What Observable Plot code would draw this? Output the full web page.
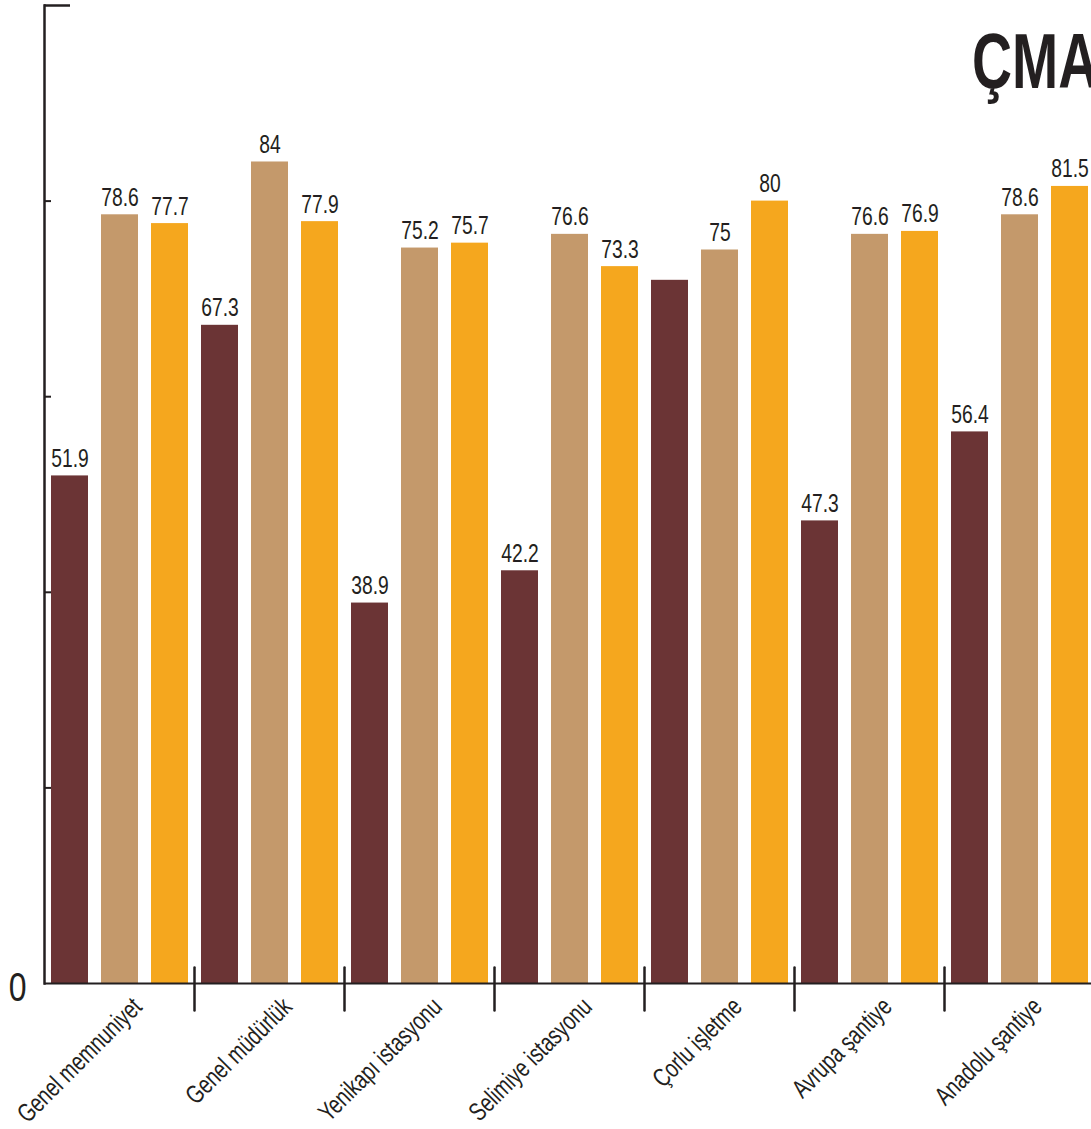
<!DOCTYPE html>
<html>
<head>
<meta charset="utf-8">
<script src="https://cdn.jsdelivr.net/npm/d3@7"></script>
<script src="https://cdn.jsdelivr.net/npm/@observablehq/plot@0.6"></script>
<style>
  html, body { margin: 0; padding: 0; background: #fff; overflow: hidden; }
  #wrap { position: relative; width: 1091px; height: 1129px; overflow: hidden; }
  #chart { position: absolute; left: 0; top: 0; width: 1100px; }
  #chart svg { max-width: none !important; }
  #title { position: absolute; left: 972px; top: 23px; font-family: "Liberation Sans", Arial, sans-serif; font-weight: bold; font-size: 77px; line-height: 1; color: #231f20; white-space: nowrap; transform: scaleX(0.72); transform-origin: 0 0; }
</style>
</head>
<body>
<div id="wrap">
  <div id="chart"></div>
  <div id="title">ÇMA</div>
</div>
<script>
const categories = ["Genel memnuniyet", "Genel müdürlük", "Yenikapı istasyonu", "Selimiye istasyonu", "Çorlu işletme", "Avrupa şantiye", "Anadolu şantiye"];
const seriesNames = ["Seri 1", "Seri 2", "Seri 3"];
const values1 = [51.9, 67.3, 38.9, 42.2, 71.9, 47.3, 56.4];
const values2 = [78.6, 84, 75.2, 76.6, 75, 76.6, 78.6];
const values3 = [77.7, 77.9, 75.7, 73.3, 80, 76.9, 81.5];
const hiddenLabels = [["Çorlu işletme", "Seri 1"]];
const colors = ["#6b3435", "#c4996b", "#f5a71e"];
const yMinorTicks = [20, 40, 60, 80];
const yTopTick = [100];
const yLabelTicks = [0];

const FONT = '"Liberation Sans", Arial, sans-serif';
const INK = "#231f20";

const seriesValues = [values1, values2, values3];
const data = categories.flatMap((c, i) => seriesNames.map((s, j) => ({
  category: c, series: s, value: seriesValues[j][i],
  show: !hiddenLabels.some(([hc, hs]) => hc === c && hs === s)
})));

const separatorShape = { draw(context, l) { context.moveTo(0, 0); context.lineTo(0, -l); } };

const chart = Plot.plot({
  width: 1100,
  height: 1129,
  marginLeft: 43,
  marginRight: 5,
  marginTop: 5,
  marginBottom: 146,
  style: { fontFamily: FONT, color: INK, background: "white", maxWidth: "none" },
  fx: { domain: categories, padding: 0, axis: null },
  x: { domain: seriesNames, paddingInner: 0.26, paddingOuter: 0.13, axis: null },
  y: { domain: [0, 100], label: null },
  color: { domain: seriesNames, range: colors },
  marks: [
    Plot.barY(data, { fx: "category", x: "series", y: "value", fill: "series" }),
    Plot.ruleY([0], { stroke: INK, strokeWidth: 2 }),
    Plot.frame({ anchor: "left", facetAnchor: "left", stroke: INK, strokeWidth: 2.5 }),
    Plot.axisY({ ticks: yMinorTicks, tickSize: -7, tickFormat: () => "", label: null, stroke: INK, strokeWidth: 2 }),
    Plot.axisY({ ticks: yTopTick, tickSize: -26, tickFormat: () => "", label: null, stroke: INK, strokeWidth: 2.5 }),
    Plot.axisY({ ticks: yLabelTicks, tickSize: 0, tickPadding: 18, fontSize: 41, dy: 4, label: null, fill: INK, className: "zero-label" }),
    Plot.vector(categories.slice(1), { fx: d => d, frameAnchor: "bottom-left", length: 43, rotate: 180, anchor: "start", dy: -16, shape: separatorShape, stroke: INK, strokeWidth: 2.5 }),
    Plot.text(data.filter(d => d.show), { fx: "category", x: "series", y: "value", text: d => String(d.value), lineAnchor: "bottom", dy: -9, fontSize: 25, fill: INK, className: "value-label" }),
    Plot.text(categories, { fx: d => d, text: d => d, frameAnchor: "bottom", rotate: -45, textAnchor: "end", lineAnchor: "middle", dx: 18, dy: 19, fontSize: 26, fill: INK, className: "cat-label" })
  ]
});
document.getElementById("chart").appendChild(chart);

// condensed look: compress texts horizontally
function narrow(selector, k) {
  chart.querySelectorAll(selector).forEach(t => {
    const len = t.getComputedTextLength();
    if (len > 0) {
      t.setAttribute("textLength", (len * k).toFixed(2));
      t.setAttribute("lengthAdjust", "spacingAndGlyphs");
    }
  });
}
narrow(".value-label text", 0.77);
narrow(".cat-label text", 0.75);
narrow(".zero-label text", 0.78);
</script>
</body>
</html>
